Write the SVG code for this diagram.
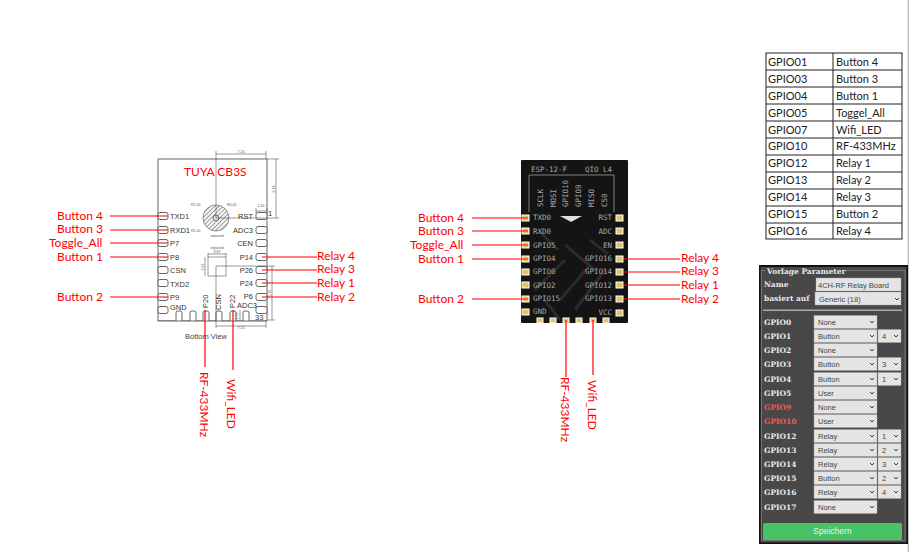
<svg xmlns="http://www.w3.org/2000/svg" width="914" height="552" viewBox="0 0 914 552">
<style>
.lbl{font:12px Lato,"Liberation Sans",sans-serif;fill:#f00}
.red{stroke:#f00;stroke-width:1.2;fill:none}
.dim{stroke:#555;stroke-width:.6;fill:none}
.dimt{font:3.5px "Liberation Sans",sans-serif;fill:#555}
.out{stroke:#555;stroke-width:.9;fill:#fff}
.pin{font:7.5px "Liberation Sans",sans-serif;fill:#333}
.end{text-anchor:end}
.esp{font:7.5px "DejaVu Sans Mono",monospace;fill:#a8a8a8}
.gold{fill:#e2c466;stroke:#fff;stroke-width:1}
.tbl{stroke:#222;stroke-width:1;fill:none}
.tt{font:11px Lato,"Liberation Sans",sans-serif;fill:#222}
.pl{font:bold 7.5px "DejaVu Serif",serif;fill:#e8e8e8}
.pr{fill:#ff5555}
.sv{font:7.5px "Liberation Sans",sans-serif;fill:#444}
.box{fill:#e4e4e4;stroke:#aaa;stroke-width:.4}
.chev{fill:none;stroke:#333;stroke-width:1}
</style>
<defs>
<pattern id="hatch" width="3" height="3" patternUnits="userSpaceOnUse" patternTransform="rotate(45)"><rect width="3" height="3" fill="#fff"/><rect width="1.1" height="3" fill="#999"/></pattern>
<g id="s"><rect class="box" x="0" y="-6.5" width="63" height="13"/><path class="chev" d="M56 -1l2 2 2-2"/></g>
<g id="m"><rect class="box" x="0" y="-6.5" width="23" height="13"/><path class="chev" d="M16 -1l2 2 2-2"/></g>
<rect id="pl" class="out" x="158" y="-3.5" width="10" height="7" rx="2"/>
<rect id="pr" class="out" x="256" y="-3.5" width="11" height="7" rx="2"/>
<rect id="pb" class="out" x="-3" y="311" width="6" height="12" rx="2"/>
<rect id="gl" class="gold" x="522" y="-3" width="7" height="6"/>
<rect id="gr" class="gold" x="616" y="-3" width="7" height="6"/>
<rect id="gb" class="gold" x="-3" y="318" width="6" height="5"/>
</defs>
<rect width="914" height="552" fill="#fff"/>
<rect x="907.5" y="0" width="1.5" height="552" fill="#c4c4c4"/>

<g id="cb3s-module">
<rect class="out" x="158" y="159" width="109" height="162"/>
<use href="#pl" y="216"/><use href="#pl" y="230"/><use href="#pl" y="243"/><use href="#pl" y="257"/><use href="#pl" y="270"/><use href="#pl" y="283"/><use href="#pl" y="297"/><use href="#pl" y="310"/>
<use href="#pr" y="216"/><use href="#pr" y="230"/><use href="#pr" y="243"/><use href="#pr" y="257"/><use href="#pr" y="270"/><use href="#pr" y="283"/><use href="#pr" y="297"/><use href="#pr" y="310"/>
<use href="#pb" x="179"/><use href="#pb" x="193"/><use href="#pb" x="206"/><use href="#pb" x="219"/><use href="#pb" x="233"/><use href="#pb" x="246"/>
<rect x="150" y="321" width="125" height="4" fill="#fff"/>
<path d="M158 321H267" stroke="#555" stroke-width=".9"/>
<circle cx="216" cy="218" r="13" fill="url(#hatch)" stroke="#555" stroke-width=".6"/>
<circle cx="216" cy="218" r="3" fill="#ddd" stroke="#555" stroke-width=".8"/>
<rect x="208" y="257" width="18" height="19" fill="none" stroke="#555" stroke-width=".6"/>
<path class="dim" d="M216 151V218H279M216 154H266M266 151V159M276 159V218M267 159H279M216 266H275M216 266V328M272 266V320M267 320H275M266 321V328M216 326H266M208 254H226M205 257V276M208 253V257M226 253V257M256 211H267M256 208V213M267 208V213M240 310V320"/>
<text class="dimt" x="241" y="153" text-anchor="middle">7.20</text>
<text class="dimt" transform="translate(275 189) rotate(-90)" text-anchor="middle">6.74</text>
<text class="dimt" transform="translate(271 293) rotate(-90)" text-anchor="middle">5.20</text>
<text class="dimt" x="241" y="329" text-anchor="middle">7.20</text>
<text class="dimt" x="217" y="253" text-anchor="middle">3.87</text>
<text class="dimt" x="217" y="249" text-anchor="middle">exposed</text>
<text class="dimt" transform="translate(204 267) rotate(-90)" text-anchor="middle">3.97</text>
<text class="dimt" x="217" y="237" text-anchor="middle">exposed</text>
<text class="dimt" x="261" y="207" text-anchor="middle">1.50</text>
<text class="dimt" x="191" y="206">R1.00</text>
<text class="dimt" x="191" y="232">R1.00</text>
<text class="dimt" x="227" y="206">R0.40</text>
<text class="dimt" transform="translate(238 316) rotate(-90)" text-anchor="middle">1.50</text>
<text class="pin" x="170" y="219">TXD1</text>
<text class="pin" x="170" y="233">RXD1</text>
<text class="pin" x="170" y="246">P7</text>
<text class="pin" x="170" y="260">P8</text>
<text class="pin" x="170" y="273">CSN</text>
<text class="pin" x="170" y="287">TXD2</text>
<text class="pin" x="170" y="300">P9</text>
<text class="pin" x="170" y="310">GND</text>
<text class="pin end" x="253" y="219">RST</text>
<text class="pin end" x="253" y="233">ADC3</text>
<text class="pin end" x="253" y="246">CEN</text>
<text class="pin end" x="253" y="260">P14</text>
<text class="pin end" x="253" y="273">P26</text>
<text class="pin end" x="253" y="286">P24</text>
<text class="pin end" x="253" y="299">P6</text>
<text class="pin" transform="translate(208 308) rotate(-90)">P20</text>
<text class="pin" transform="translate(221 310) rotate(-90)">CSN</text>
<text class="pin" transform="translate(235 308) rotate(-90)">P22</text>
<text class="pin" x="237" y="308">ADC3</text>
<text class="pin" x="255" y="320">33</text>
<text class="pin" x="268" y="216">1</text>
<text x="185" y="339" font-family="'Liberation Sans',sans-serif" font-size="7.5" fill="#444">Bottom View</text>
<text x="184" y="176" class="lbl" font-size="12">TUYA CB3S</text>
</g>

<g id="esp12f-module">
<rect x="521" y="160" width="107" height="163" rx="1" fill="#141414"/>
<path d="M540 232l18 18M535 290l30 -30M560 300l30 -35M575 310l30 -40M565 245l30 25M545 300l15 20M590 240l18 14" stroke="#2b2b2b" stroke-width="3" fill="none"/>
<path d="M529 212V175H614V212" fill="none" stroke="#999" stroke-width=".8"/>
<path d="M560 216H582L571 222Z" fill="#ddd"/>
<text class="esp" x="531" y="172">ESP-12-F</text>
<text class="esp" x="585" y="172">QIO L4</text>
<g class="esp">
<text transform="translate(543 207) rotate(-90)">SCLK</text>
<text transform="translate(556 207) rotate(-90)">MOSI</text>
<text transform="translate(568 207) rotate(-90)">GPIO10</text>
<text transform="translate(581 207) rotate(-90)">GPIO9</text>
<text transform="translate(594 207) rotate(-90)">MISO</text>
<text transform="translate(607 207) rotate(-90)">CS0</text>
</g>
<use href="#gl" y="218"/><use href="#gl" y="231"/><use href="#gl" y="245"/><use href="#gl" y="259"/><use href="#gl" y="272"/><use href="#gl" y="285"/><use href="#gl" y="299"/><use href="#gl" y="312"/>
<use href="#gr" y="218"/><use href="#gr" y="231"/><use href="#gr" y="245"/><use href="#gr" y="259"/><use href="#gr" y="272"/><use href="#gr" y="285"/><use href="#gr" y="299"/><use href="#gr" y="313"/>
<use href="#gb" x="540"/><use href="#gb" x="553"/><use href="#gb" x="566"/><use href="#gb" x="579"/><use href="#gb" x="593"/><use href="#gb" x="606"/>
<text class="esp" x="533" y="220">TXD0</text>
<text class="esp" x="533" y="234">RXD0</text>
<text class="esp" x="533" y="248">GPIO5</text>
<text class="esp" x="533" y="261">GPIO4</text>
<text class="esp" x="533" y="274">GPIO0</text>
<text class="esp" x="533" y="288">GPIO2</text>
<text class="esp" x="533" y="301">GPIO15</text>
<text class="esp" x="533" y="314">GND</text>
<text class="esp end" x="612" y="220">RST</text>
<text class="esp end" x="612" y="234">ADC</text>
<text class="esp end" x="612" y="248">EN</text>
<text class="esp end" x="612" y="261">GPIO16</text>
<text class="esp end" x="612" y="274">GPIO14</text>
<text class="esp end" x="612" y="288">GPIO12</text>
<text class="esp end" x="612" y="301">GPIO13</text>
<text class="esp end" x="612" y="315">VCC</text>
</g>

<g id="connectors">
<path class="red" d="M110 216H168M110 230H168M110 243H168M110 257H168M110 297H168M262 257H317M262 270H317M262 283H317M262 297H317M205 310V367M233 310V370"/>
<path class="red" d="M472 218H528M472 231H528M472 245H528M472 259H528M472 299H528M624 259H680M624 272H680M624 285H680M624 299H680M566 320V377M593 320V375"/>
</g>

<g id="cb3s-labels">
<text class="lbl" x="57" y="220">Button 4</text>
<text class="lbl" x="57" y="233">Button 3</text>
<text class="lbl" x="49" y="247">Toggle_All</text>
<text class="lbl" x="57" y="261">Button 1</text>
<text class="lbl" x="57" y="301">Button 2</text>
<text class="lbl" x="317" y="260">Relay 4</text>
<text class="lbl" x="317" y="273">Relay 3</text>
<text class="lbl" x="317" y="287">Relay 1</text>
<text class="lbl" x="317" y="301">Relay 2</text>
<text class="lbl" transform="translate(200 372) rotate(90)">RF-433MHz</text>
<text class="lbl" transform="translate(227 379) rotate(90)">Wifi_LED</text>
</g>

<g id="esp12f-labels">
<text class="lbl" x="418" y="222">Button 4</text>
<text class="lbl" x="418" y="235">Button 3</text>
<text class="lbl" x="410" y="249">Toggle_All</text>
<text class="lbl" x="418" y="263">Button 1</text>
<text class="lbl" x="418" y="303">Button 2</text>
<text class="lbl" x="681" y="262">Relay 4</text>
<text class="lbl" x="681" y="275">Relay 3</text>
<text class="lbl" x="681" y="289">Relay 1</text>
<text class="lbl" x="681" y="303">Relay 2</text>
<text class="lbl" transform="translate(561 377) rotate(90)">RF-433MHz</text>
<text class="lbl" transform="translate(588 380) rotate(90)">Wifi_LED</text>
</g>

<g id="gpio-table">
<rect class="tbl" x="766" y="53" width="136" height="186"/>
<path class="tbl" d="M833 53V239M766 70H902M766 87H902M766 104H902M766 121H902M766 138H902M766 155H902M766 172H902M766 189H902M766 206H902M766 223H902"/>
<g class="tt">
<text x="768" y="66">GPIO01</text><text x="836" y="66">Button 4</text>
<text x="768" y="83">GPIO03</text><text x="836" y="83">Button 3</text>
<text x="768" y="100">GPIO04</text><text x="836" y="100">Button 1</text>
<text x="768" y="117">GPIO05</text><text x="836" y="117">Toggel_All</text>
<text x="768" y="134">GPIO07</text><text x="836" y="134">Wifi_LED</text>
<text x="768" y="150">GPIO10</text><text x="836" y="150">RF-433MHz</text>
<text x="768" y="167">GPIO12</text><text x="836" y="167">Relay 1</text>
<text x="768" y="184">GPIO13</text><text x="836" y="184">Relay 2</text>
<text x="768" y="201">GPIO14</text><text x="836" y="201">Relay 3</text>
<text x="768" y="218">GPIO15</text><text x="836" y="218">Button 2</text>
<text x="768" y="235">GPIO16</text><text x="836" y="235">Relay 4</text>
</g>
</g>

<g id="template-panel">
<rect x="759" y="265" width="149" height="279" fill="#111"/>
<rect x="760.500" y="267" width="146" height="275.500" fill="#484848"/>
<rect x="761.500" y="270.500" width="143.500" height="270" fill="none" stroke="#888" stroke-width=".7"/>
<rect x="765" y="267" width="80" height="6" fill="#484848"/>
<text class="pl" x="767" y="274">Vorlage Parameter</text>
<text class="pl" x="764" y="287">Name</text>
<rect class="box" x="816" y="278" width="85" height="13"/>
<text class="sv" x="818" y="287.500">4CH-RF Relay Board</text>
<text class="pl" x="764" y="301">basiert auf</text>
<rect class="box" x="815" y="292" width="86" height="13"/>
<path class="chev" d="M895 298l2 2 2-2"/>
<text class="sv" x="819" y="301.500">Generic (18)</text>
<rect x="763" y="309.500" width="139" height="1.500" fill="#aaa"/>
<use href="#s" x="814" y="322"/><use href="#s" x="814" y="336"/><use href="#s" x="814" y="350"/><use href="#s" x="814" y="364"/><use href="#s" x="814" y="379"/><use href="#s" x="814" y="393"/><use href="#s" x="814" y="407"/><use href="#s" x="814" y="421"/><use href="#s" x="814" y="436"/><use href="#s" x="814" y="450"/><use href="#s" x="814" y="464"/><use href="#s" x="814" y="478"/><use href="#s" x="814" y="492"/><use href="#s" x="814" y="507"/>
<use href="#m" x="878" y="336"/><use href="#m" x="878" y="364"/><use href="#m" x="878" y="379"/><use href="#m" x="878" y="436"/><use href="#m" x="878" y="450"/><use href="#m" x="878" y="464"/><use href="#m" x="878" y="478"/><use href="#m" x="878" y="492"/>
<g class="pl">
<text x="764" y="325">GPIO0</text><text x="764" y="339">GPIO1</text><text x="764" y="353">GPIO2</text><text x="764" y="367">GPIO3</text><text x="764" y="382">GPIO4</text><text x="764" y="396">GPIO5</text>
<text class="pr" x="764" y="410">GPIO9</text><text class="pr" x="764" y="424">GPIO10</text>
<text x="764" y="439">GPIO12</text><text x="764" y="453">GPIO13</text><text x="764" y="467">GPIO14</text><text x="764" y="481">GPIO15</text><text x="764" y="495">GPIO16</text><text x="764" y="510">GPIO17</text>
</g>
<g class="sv">
<text x="818" y="325">None</text><text x="818" y="339">Button</text><text x="818" y="353">None</text><text x="818" y="367">Button</text><text x="818" y="382">Button</text><text x="818" y="396">User</text><text x="818" y="410">None</text><text x="818" y="424">User</text><text x="818" y="439">Relay</text><text x="818" y="453">Relay</text><text x="818" y="467">Relay</text><text x="818" y="481">Button</text><text x="818" y="495">Relay</text><text x="818" y="510">None</text>
<text x="882" y="339">4</text><text x="882" y="367">3</text><text x="882" y="382">1</text><text x="882" y="439">1</text><text x="882" y="453">2</text><text x="882" y="467">3</text><text x="882" y="481">2</text><text x="882" y="495">4</text>
</g>
<rect x="763" y="523" width="139" height="17" rx="1.500" fill="#47c266"/>
<text x="832.500" y="534" text-anchor="middle" font-family="'Liberation Sans',sans-serif" font-size="8.500" fill="#eef">Speichern</text>
</g>
</svg>
